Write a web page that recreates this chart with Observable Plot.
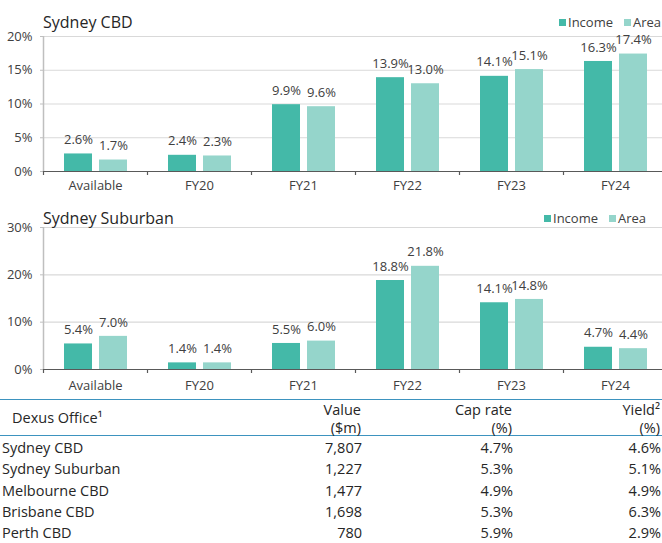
<!DOCTYPE html>
<html>
<head>
<meta charset="utf-8">
<script src="https://cdn.jsdelivr.net/npm/d3@7"></script>
<script src="https://cdn.jsdelivr.net/npm/@observablehq/plot@0.6"></script>
<style>
  html, body { margin: 0; padding: 0; background: #fff; overflow: hidden; }
  body { width: 662px; height: 543px; position: relative; font-family: "Open Sans", sans-serif; color: #333; }
  .abs { position: absolute; white-space: nowrap; }
  .title { font-size: 16px; line-height: 20px; color: #262626; }
  .leg { font-size: 13px; line-height: 16px; color: #404040; }
  .sw { position: absolute; width: 7px; height: 7px; }
  .cell { position: absolute; white-space: nowrap; font-size: 14.5px; line-height: 18px; color: #262626; }
  .hline { position: absolute; left: 0; width: 662px; height: 0; border-top: 1.5px solid #3d93bf; }
</style>
</head>
<body>
<div id="root"></div>
<script>
// ---------- Data ----------
const categories = ["Available", "FY20", "FY21", "FY22", "FY23", "FY24"];
const seriesNames = ["Income", "Area"];
const sydneyCbdIncome = [2.6, 2.4, 9.9, 13.9, 14.1, 16.3];
const sydneyCbdArea   = [1.7, 2.3, 9.6, 13.0, 15.1, 17.4];
const sydneySubIncome = [5.4, 1.4, 5.5, 18.8, 14.1, 4.7];
const sydneySubArea   = [7.0, 1.4, 6.0, 21.8, 14.8, 4.4];
const cbdTicks = [0, 5, 10, 15, 20];
const subTicks = [0, 10, 20, 30];

const tableHeader = ["Dexus Office¹", ["Value", "($m)"], ["Cap rate", "(%)"], ["Yield²", "(%)"]];
const tableRegions = ["Sydney CBD", "Sydney Suburban", "Melbourne CBD", "Brisbane CBD", "Perth CBD"];
const tableValues  = ["7,807", "1,227", "1,477", "1,698", "780"];
const tableCapRate = ["4.7%", "5.3%", "4.9%", "5.3%", "5.9%"];
const tableYield   = ["4.6%", "5.1%", "4.9%", "6.3%", "2.9%"];

// ---------- Style ----------
const INCOME = "#44b9a8";
const AREA = "#95d5cb";
const root = document.getElementById("root");

function el(tag, cls, text, style) {
  const e = document.createElement(tag);
  if (cls) e.className = cls;
  if (text != null) e.textContent = text;
  Object.assign(e.style, style || {});
  root.appendChild(e);
  return e;
}

function chart({top, title, titleTop, legendX, income, area, ticks, yMax, marginTop, height, xPad}) {
  const inc = categories.map((c, i) => ({cat: c, v: income[i]}));
  const ar = categories.map((c, i) => ({cat: c, v: area[i]}));
  const x0 = 43, x1 = 667;
  const half = (x1 - x0) / categories.length / 2;
  const fmt = d => d.v.toFixed(1) + "%";

  const svg = Plot.plot({
    width: 662,
    height,
    marginLeft: 43,
    marginRight: 0,
    marginTop,
    marginBottom: 24,
    style: {fontFamily: "Open Sans, sans-serif", fontSize: "13px", color: "#404040", background: "none"},
    x: {type: "band", domain: categories, range: [x0, x1], padding: 0, label: null},
    y: {domain: [0, yMax], label: null},
    marks: [
      Plot.ruleY(ticks.filter(t => t > 0), {stroke: "#d9d9d9", strokeWidth: 1.2}),
      Plot.ruleX([categories[0]], {dx: -half, stroke: "#bfbfbf", strokeWidth: 1.5}),
      Plot.axisY({ticks, label: null, tickFormat: d => d + "%", tickSize: 3, tickPadding: 8, stroke: "#bfbfbf", fill: "#404040", fontSize: 13}),
      Plot.barY(inc, {x: "cat", y: "v", fill: INCOME, insetLeft: 21, insetRight: 55}),
      Plot.barY(ar, {x: "cat", y: "v", fill: AREA, insetLeft: 56, insetRight: 20}),
      Plot.text(inc, {x: "cat", y: "v", text: fmt, dx: -17, dy: -14, fill: "#404040", fontSize: 13}),
      Plot.text(ar, {x: "cat", y: "v", text: fmt, dx: 18, dy: -14, fill: "#404040", fontSize: 13}),
      Plot.ruleY([0], {stroke: "#595959", strokeWidth: 1.2}),
      Plot.ruleX(categories, {dx: -half, y1: 0, y2: 0, insetBottom: -4, stroke: "#595959", strokeWidth: 1.2}),
      Plot.axisX({label: null, tickSize: 0, tickPadding: xPad, fill: "#404040", fontSize: 13})
    ]
  });
  Object.assign(svg.style, {position: "absolute", left: "0px", top: top + "px"});
  root.appendChild(svg);

  el("div", "abs title", title, {left: "43px", top: titleTop + "px"});
  // legend
  const ly = titleTop + 2;
  el("div", "sw", null, {left: legendX + "px", top: (ly + 5) + "px", background: INCOME});
  el("div", "abs leg", seriesNames[0], {left: (legendX + 9) + "px", top: ly + "px"});
  el("div", "sw", null, {left: (legendX + 65) + "px", top: (ly + 5) + "px", background: AREA});
  el("div", "abs leg", seriesNames[1], {left: (legendX + 74) + "px", top: ly + "px"});
}

chart({top: 20, title: "Sydney CBD", titleTop: 12, legendX: 559, income: sydneyCbdIncome, area: sydneyCbdArea,
       ticks: cbdTicks, yMax: 20, marginTop: 16, height: 175, xPad: 9});
chart({top: 212, title: "Sydney Suburban", titleTop: 208, legendX: 544, income: sydneySubIncome, area: sydneySubArea,
       ticks: subTicks, yMax: 30, marginTop: 15, height: 181, xPad: 11});

// ---------- Table ----------
el("div", "hline", null, {top: "399px"});
el("div", "hline", null, {top: "435px"});
const rightEdges = [361, 512, 660];
el("div", "cell", tableHeader[0], {left: "12px", top: "409px"});
tableHeader.slice(1).forEach((h, j) => {
  el("div", "cell", h[0], {right: (662 - rightEdges[j]) + "px", top: "401px"});
  el("div", "cell", h[1], {right: (662 - rightEdges[j]) + "px", top: "419px"});
});
const cols = [tableValues, tableCapRate, tableYield];
tableRegions.forEach((r, i) => {
  const t = 439 + i * 21.3;
  el("div", "cell", r, {left: "2px", top: t + "px"});
  cols.forEach((col, j) => {
    el("div", "cell", col[i], {right: (662 - rightEdges[j] - 1) + "px", top: t + "px"});
  });
});
</script>
</body>
</html>
